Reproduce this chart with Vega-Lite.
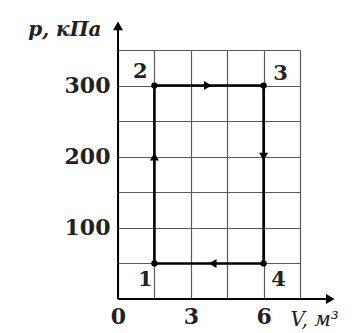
{
  "$schema": "https://vega.github.io/schema/vega-lite/v6.json",
  "width": 182,
  "height": 249,
  "autosize": "none",
  "padding": {"left": 118, "top": 50, "right": 59, "bottom": 34},
  "background": "white",
  "config": {
    "view": {"stroke": null},
    "font": "DejaVu Serif"
  },
  "datasets": {
    "cycle": [
      {"n": 1, "V": 1.5, "p": 50, "label": "1"},
      {"n": 2, "V": 1.5, "p": 300, "label": "2"},
      {"n": 3, "V": 6, "p": 300, "label": "3"},
      {"n": 4, "V": 6, "p": 50, "label": "4"},
      {"n": 5, "V": 1.5, "p": 50, "label": ""}
    ],
    "arrows": [
      {"V": 1.5, "p": 200, "dir": "up"},
      {"V": 3.7, "p": 300, "dir": "right"},
      {"V": 6, "p": 200, "dir": "down"},
      {"V": 3.9, "p": 50, "dir": "left"}
    ],
    "axes": [
      {"axis": "p", "V": 0, "p": 0, "V2": 0, "p2": 380},
      {"axis": "V", "V": 0, "p": 0, "V2": 8.6, "p2": 0}
    ],
    "axisheads": [
      {"V": 0, "p": 384, "dir": "up"},
      {"V": 8.75, "p": 0, "dir": "right"}
    ]
  },
  "layer": [
    {
      "data": {"name": "cycle"},
      "mark": {"type": "line", "color": "black", "strokeWidth": 2.6},
      "encoding": {
        "x": {
          "field": "V", "type": "quantitative",
          "scale": {"domain": [0, 7.5], "nice": false, "zero": true},
          "axis": {
            "values": [0, 1.5, 3, 4.5, 6, 7.5], "tickCount": 50, "format": "~g",
            "labelExpr": "datum.value == 0 || datum.value == 3 || datum.value == 6 ? datum.label : ''",
            "labelOverlap": false, "labelBound": false,
            "grid": true, "gridColor": "#5a5a5a", "gridWidth": 1.2, "gridOpacity": 1,
            "domain": false, "ticks": false,
            "labelFont": "DejaVu Serif", "labelFontWeight": "bold", "labelFontSize": 22,
            "labelColor": "#222", "labelPadding": 7, "labelFlush": false,
            "title": "V, м³", "titleFont": "DejaVu Serif", "titleFontSize": 20,
            "titleFontWeight": "normal", "titleFontStyle": "italic", "titleColor": "#222",
            "titleAlign": "left", "titleBaseline": "middle", "titleX": 172, "titleY": 20
          }
        },
        "y": {
          "field": "p", "type": "quantitative",
          "scale": {"domain": [0, 350], "nice": false, "zero": true},
          "axis": {
            "values": [0, 50, 100, 150, 200, 250, 300, 350], "tickCount": 50, "format": "~g",
            "labelExpr": "datum.value == 100 || datum.value == 200 || datum.value == 300 ? datum.label : ''",
            "labelOverlap": false, "labelBound": false,
            "grid": true, "gridColor": "#5a5a5a", "gridWidth": 1.2, "gridOpacity": 1,
            "domain": false, "ticks": false,
            "labelFont": "DejaVu Serif", "labelFontWeight": "bold", "labelFontSize": 22,
            "labelColor": "#222", "labelPadding": 8,
            "title": "p, кПа", "titleFont": "DejaVu Serif", "titleFontSize": 20,
            "titleFontWeight": "bold", "titleFontStyle": "italic", "titleColor": "#222", "titleAngle": 0,
            "titleAlign": "right", "titleBaseline": "middle", "titleX": -17, "titleY": -21
          }
        },
        "order": {"field": "n", "type": "quantitative"}
      }
    },
    {
      "data": {"name": "axes"},
      "mark": {"type": "rule", "color": "black", "strokeWidth": 2},
      "encoding": {
        "x": {"field": "V", "type": "quantitative"},
        "y": {"field": "p", "type": "quantitative"},
        "x2": {"field": "V2"},
        "y2": {"field": "p2"}
      }
    },
    {
      "data": {"name": "axisheads"},
      "mark": {"type": "point", "filled": true, "color": "black", "opacity": 1, "size": 100},
      "encoding": {
        "x": {"field": "V", "type": "quantitative"},
        "y": {"field": "p", "type": "quantitative"},
        "shape": {
          "field": "dir", "type": "nominal",
          "scale": {"domain": ["up", "right", "down", "left"], "range": ["triangle-up", "triangle-right", "triangle-down", "triangle-left"]},
          "legend": null
        }
      }
    },
    {
      "data": {"name": "arrows"},
      "mark": {"type": "point", "filled": true, "color": "black", "opacity": 1, "size": 80},
      "encoding": {
        "x": {"field": "V", "type": "quantitative"},
        "y": {"field": "p", "type": "quantitative"},
        "shape": {"field": "dir", "type": "nominal", "legend": null}
      }
    },
    {
      "data": {"name": "cycle"},
      "transform": [{"filter": "datum.n <= 4"}],
      "mark": {"type": "circle", "color": "black", "opacity": 1, "size": 40},
      "encoding": {
        "x": {"field": "V", "type": "quantitative"},
        "y": {"field": "p", "type": "quantitative"}
      }
    },
    {
      "data": {"name": "cycle"},
      "transform": [{"filter": "datum.n == 1"}],
      "mark": {"type": "text", "font": "DejaVu Serif", "fontWeight": "bold", "fontSize": 21, "color": "#222", "dx": -9, "dy": 17},
      "encoding": {
        "x": {"field": "V", "type": "quantitative"},
        "y": {"field": "p", "type": "quantitative"},
        "text": {"field": "label"}
      }
    },
    {
      "data": {"name": "cycle"},
      "transform": [{"filter": "datum.n == 2"}],
      "mark": {"type": "text", "font": "DejaVu Serif", "fontWeight": "bold", "fontSize": 21, "color": "#222", "dx": -14, "dy": -14},
      "encoding": {
        "x": {"field": "V", "type": "quantitative"},
        "y": {"field": "p", "type": "quantitative"},
        "text": {"field": "label"}
      }
    },
    {
      "data": {"name": "cycle"},
      "transform": [{"filter": "datum.n == 3"}],
      "mark": {"type": "text", "font": "DejaVu Serif", "fontWeight": "bold", "fontSize": 21, "color": "#222", "dx": 17, "dy": -12},
      "encoding": {
        "x": {"field": "V", "type": "quantitative"},
        "y": {"field": "p", "type": "quantitative"},
        "text": {"field": "label"}
      }
    },
    {
      "data": {"name": "cycle"},
      "transform": [{"filter": "datum.n == 4"}],
      "mark": {"type": "text", "font": "DejaVu Serif", "fontWeight": "bold", "fontSize": 21, "color": "#222", "dx": 15, "dy": 17},
      "encoding": {
        "x": {"field": "V", "type": "quantitative"},
        "y": {"field": "p", "type": "quantitative"},
        "text": {"field": "label"}
      }
    }
  ]
}
